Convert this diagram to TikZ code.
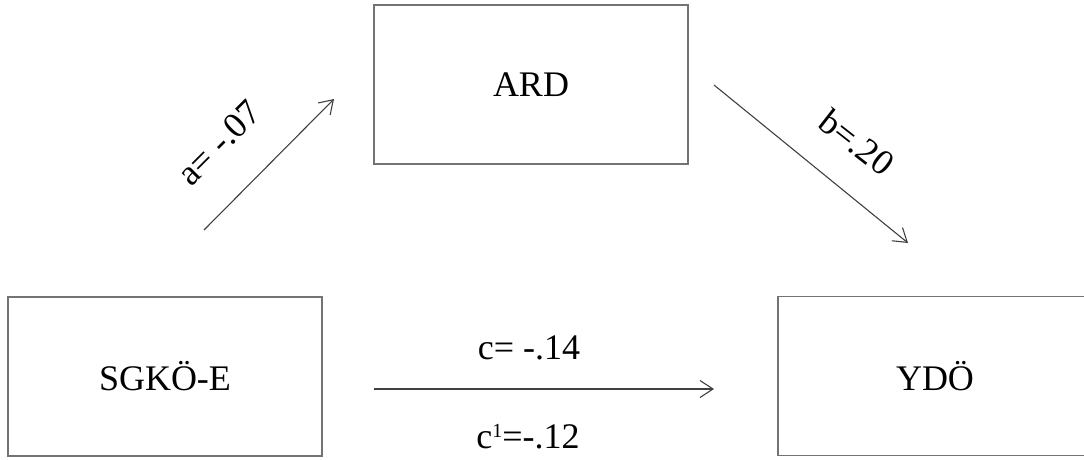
\documentclass[tikz,border=0pt]{standalone}
\usepackage{fontspec}
\setmainfont{Liberation Serif}
\usetikzlibrary{arrows.meta}
\begin{document}
\begin{tikzpicture}[x=1pt,y=-1pt,
  varbox/.style={draw=black!55,line width=1.6pt,minimum width=314pt,minimum height=159pt,inner sep=0pt,font=\fontsize{36}{42}\selectfont},
  path/.style={draw=black!75,line width=1.1pt,-{Straight Barb[length=13pt,width=17pt,line width=1.1pt]}},
  coef/.style={font=\fontsize{36}{42}\selectfont,inner sep=0pt}]
\useasboundingbox (0,0) rectangle (1084,459);
\clip (0,0) rectangle (1084,459);
\node[varbox] (ard) at (531,84.5) {ARD};
\node[varbox] (sgko) at (165,376.5) {SGKÖ-E};
\node[varbox] (ydo) at (935,376) {YDÖ};
\coordinate (a0) at (204,230);
\coordinate (a1) at (334,99);
\coordinate (b0) at (714,85);
\coordinate (b1) at (908,243);
\coordinate (c0) at (374,389);
\coordinate (c1) at (714,389);
\draw[path] (a0) -- (a1);
\draw[path] (b0) -- (b1);
\draw[path] (c0) -- (c1);
\node[coef,rotate=45] (la) at (219,143) {a= -.07};
\node[coef,rotate=-38] (lb) at (857,142) {b=.20};
\node[coef] (lc) at (529,348) {c= -.14};
\node[coef] (lc1) at (528,437) {c{\fontsize{20}{20}\selectfont\raisebox{0.55em}{1}}=-.12};
\end{tikzpicture}
\end{document}
